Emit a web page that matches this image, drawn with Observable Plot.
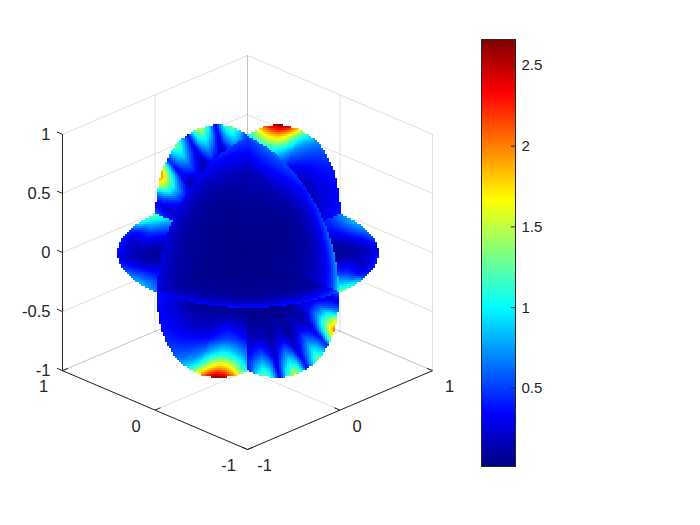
<!DOCTYPE html>
<html>
<head>
<meta charset="utf-8">
<script src="https://cdn.jsdelivr.net/npm/d3@7"></script>
<script src="https://cdn.jsdelivr.net/npm/@observablehq/plot@0.6"></script>
<style>
html,body{margin:0;padding:0;background:#fff}
#chart{display:flex;width:700px;height:525px}
svg{font-family:"Liberation Sans",Arial,sans-serif}
</style>
</head>
<body>
<div id="chart"></div>
<script>
// jet colour scale
const jetStops = ["#000080","#0000ff","#0080ff","#00ffff","#80ff80","#ffff00","#ff8000","#ff0000","#800000"];
const jetDomain = [0.017,0.347,0.678,1.008,1.339,1.669,2.0,2.33,2.66];

// axis ticks
const xyTicks = [-1,0,1];
const zTicks = [-1,-0.5,0,0.5,1];
const zTickLabels = ["-1","-0.5","0","0.5","1"];
const barTicks = [0.5,1,1.5,2,2.5];
const barTickLabels = ["0.5","1","1.5","2","2.5"];

// value on each slice: rows follow radii, columns run evenly across the 90 degrees of the quadrant
const radii = [0.5,0.7,0.82,0.92,1];
const centerValue = 0.03;
const planeYUpper = [
 [.06,.05,.05,.06,.06,.06,.05,.05,.06,.05,.05,.05,.06,.05,.05,.05,.05,.05,.05],
 [.16,.10,.14,.26,.32,.26,.12,.18,.24,.18,.10,.18,.24,.18,.10,.16,.20,.16,.12],
 [.34,.20,.36,.65,.82,.65,.26,.48,.62,.44,.20,.52,.68,.48,.20,.44,.55,.40,.28],
 [.45,.25,.55,1.15,1.45,1.1,.38,.75,1.0,.70,.32,.90,1.1,.80,.28,.80,.95,.70,.40],
 [.60,.28,.70,1.6,2.05,1.5,.40,.95,1.35,.90,.35,1.2,1.55,1.05,.30,1.0,1.3,.90,.40]
];
const planeXUpper = [
 [.07,.06,.05,.05,.05,.05,.06,.06,.06,.07,.07,.08,.09,.10,.11,.10,.09,.08,.07],
 [.18,.15,.13,.13,.13,.14,.16,.18,.20,.24,.28,.34,.42,.50,.54,.52,.46,.36,.28],
 [.30,.28,.25,.25,.27,.28,.30,.33,.38,.45,.55,.65,.85,1.0,1.1,1.05,.90,.72,.55],
 [.35,.33,.30,.30,.32,.35,.40,.45,.52,.62,.75,1.0,1.35,1.7,1.9,1.8,1.5,1.1,.75],
 [.40,.38,.35,.35,.38,.42,.48,.55,.65,.80,1.05,1.45,2.0,2.45,2.65,2.5,2.1,1.5,1.0]
];
const domeLeft = [
 [.06,.06,.06,.05,.05,.05,.05,.06,.07,.08],
 [.09,.09,.09,.08,.08,.08,.09,.11,.14,.16],
 [.14,.14,.13,.12,.13,.13,.15,.20,.26,.30],
 [.20,.20,.20,.18,.20,.20,.24,.30,.36,.42],
 [.30,.30,.28,.26,.30,.30,.34,.42,.50,.55]
];
const domeRight = [
 [.08,.07,.06,.06,.05,.05,.06,.07,.08,.09],
 [.16,.14,.12,.10,.10,.10,.13,.16,.17,.16],
 [.28,.24,.21,.18,.17,.20,.27,.33,.35,.30],
 [.48,.42,.38,.34,.30,.30,.38,.46,.48,.42],
 [1.0,.80,.70,.58,.48,.42,.50,.60,.62,.50]
];
const wing = [
 [.18,.18,.14,.08,.05,.07,.12,.20,.30,.35],
 [.30,.32,.26,.14,.08,.10,.20,.32,.48,.60],
 [.40,.45,.38,.22,.12,.15,.30,.45,.65,.80],
 [.55,.65,.55,.35,.18,.22,.20,.40,.85,1.05],
 [.70,.85,.70,.50,.30,.42,.40,.50,1.1,1.3]
];
const floorFront = [
 [.05,.05,.05,.05,.05,.05,.05,.05,.05,.05],
 [.07,.07,.07,.07,.07,.07,.07,.07,.08,.09],
 [.10,.10,.10,.10,.10,.10,.11,.11,.13,.16],
 [.17,.18,.20,.20,.21,.20,.22,.22,.26,.34],
 [.30,.32,.35,.35,.38,.35,.40,.40,.45,.60]
];
// slice outlines: outer radius by angle
const upperOuter = [1,1,1,1,1.005,1.01,1.01,1.015,1.02,1.02,1.02,1.025,1.025,1.025,1.03,1.03,1.025,1.01,1];
const lowerOuter = [.98,.985,.99,.99,.995,.995,.995,1,1,1,1,1,1,1,1,1,1,1,.995];
const wingOuter = [1,1,1,1,1,1,1,1,1,1];
const domeOuter = [.985,.985,.985,.985,.985,.985,.985,.985,.985,.985];

// map (u,v,z) data coordinates to the two screen-facing coordinates
const screenX = ([u,v]) => u - v;
const screenY = ([u,v,z]) => (u + v) / 3 + z;

function sector(table, a, b, outer) {
  const pts = [{p:[0,0,0], w:centerValue}];
  table.forEach((row, i) => row.forEach((w, j) => {
    const t = (j / (row.length - 1)) * Math.PI / 2;
    const r = radii[i] * outer[j];
    const c = r * Math.cos(t), s = r * Math.sin(t);
    pts.push({p:[a[0]*c+b[0]*s, a[1]*c+b[1]*s, a[2]*c+b[2]*s], w});
  }));
  return pts;
}

// barycentric fill, kept inside the hull of the samples
const barycentric = Plot.interpolatorBarycentric();
function insideHull(index, w, h, X, Y, V) {
  const W = barycentric(index, w, h, X, Y, V);
  const hull = d3.polygonHull(Array.from(index, i => [X[i], Y[i]]));
  for (let y = 0; y < h; ++y) for (let x = 0; x < w; ++x)
    if (!d3.polygonContains(hull, [x + 0.5, y + 0.5])) W[y * w + x] = NaN;
  return W;
}
const slice = pts => Plot.raster(pts, {
  x: d => screenX(d.p), y: d => screenY(d.p), fill: d => d.w,
  interpolate: insideHull, pixelSize: 2, imageRendering: "pixelated"
});

// painter's order: far to near
const slices = [
  sector(planeYUpper, [0,-1,0], [0,0,-1], lowerOuter),
  sector(planeXUpper, [-1,0,0], [0,0,-1], lowerOuter),
  sector(wing, [-1,0,0], [0,1,0], wingOuter),
  sector(wing, [1,0,0], [0,-1,0], wingOuter),
  sector(floorFront, [-1,0,0], [0,-1,0], domeOuter),
  sector(planeYUpper, [0,1,0], [0,0,1], upperOuter),
  sector(planeXUpper, [1,0,0], [0,0,1], upperOuter),
  sector(domeLeft, [-1,0,0], [0,0,1], domeOuter),
  sector(domeRight, [0,-1,0], [0,0,1], domeOuter)
];

const gridLines = [
  ...zTicks.flatMap(z => [[[-1,1,z],[1,1,z]], [[1,1,z],[1,-1,z]]]),
  ...xyTicks.flatMap(t => [[[t,1,-1],[t,1,1]], [[1,t,-1],[1,t,1]], [[t,-1,-1],[t,1,-1]], [[-1,t,-1],[1,t,-1]]])
];
const axisLines = [
  [[-1,1,-1],[-1,1,1]], [[-1,1,-1],[-1,-1,-1]], [[-1,-1,-1],[1,-1,-1]],
  ...zTicks.map(z => [[-1,1,z],[-1,1.06,z]]),
  ...xyTicks.map(t => [[-1,t,-1],[-0.94,t,-1]]),
  ...xyTicks.map(t => [[t,-1,-1],[t,-0.94,-1]])
];
const link = (segs, o) => Plot.link(segs, {
  x1: d => screenX(d[0]), y1: d => screenY(d[0]),
  x2: d => screenX(d[1]), y2: d => screenY(d[1]), ...o
});
const ink = "#262626";
const colorOptions = {type:"linear", domain: jetDomain, range: jetStops, interpolate:"rgb"};

const main = Plot.plot({
  width: 470, height: 525,
  marginLeft: 62, marginRight: 38, marginTop: 55, marginBottom: 76,
  x: {domain:[-2,2], axis:null},
  y: {domain:[-5/3,5/3], axis:null},
  color: colorOptions,
  style: {background:"transparent", fontFamily:'"Liberation Sans",Arial,sans-serif', overflow:"visible"},
  marks: [
    link(gridLines, {stroke: ink, strokeOpacity: 0.15, strokeWidth: 1}),
    ...slices.map(slice),
    link(axisLines, {stroke: ink, strokeWidth: 1}),
    Plot.text(zTicks, {x: () => screenX([-1,1]), y: z => screenY([-1,1,z]), text: (d,i) => zTickLabels[i],
      textAnchor:"end", dx:-12, fontSize:16.5, fill:ink}),
    Plot.text(xyTicks, {x: t => screenX([-1,t]), y: t => screenY([-1,t,-1]), text: t => String(t),
      dx:-19, dy:16.5, fontSize:16.5, fill:ink}),
    Plot.text(xyTicks, {x: t => screenX([t,-1]), y: t => screenY([t,-1,-1]), text: t => String(t),
      dx:17, dy:16.5, fontSize:16.5, fill:ink})
  ]
});

const bar = Plot.plot({
  width: 230, height: 525,
  marginLeft: 11, marginRight: 185, marginTop: 39, marginBottom: 59,
  x: {domain:[0,1], axis:null},
  y: {domain:[0.017,2.66]},
  color: colorOptions,
  style: {background:"transparent", fontFamily:'"Liberation Sans",Arial,sans-serif', color:ink},
  marks: [
    Plot.raster({x1:0, x2:1, y1:0.017, y2:2.66, fill:(x,y) => y, pixelSize:1, width:34, height:427}),
    Plot.ruleY(barTicks, {x1:0.88, x2:1, stroke:ink}),
    Plot.axisY(barTicks, {anchor:"right", tickSize:0, tickPadding:6, label:null,
      tickFormat:(d,i) => barTickLabels[barTicks.indexOf(d)], fontSize:15, fill:ink}),
    Plot.frame({stroke:ink})
  ]
});

const root = document.getElementById("chart");
root.append(main, bar);
</script>
</body>
</html>
